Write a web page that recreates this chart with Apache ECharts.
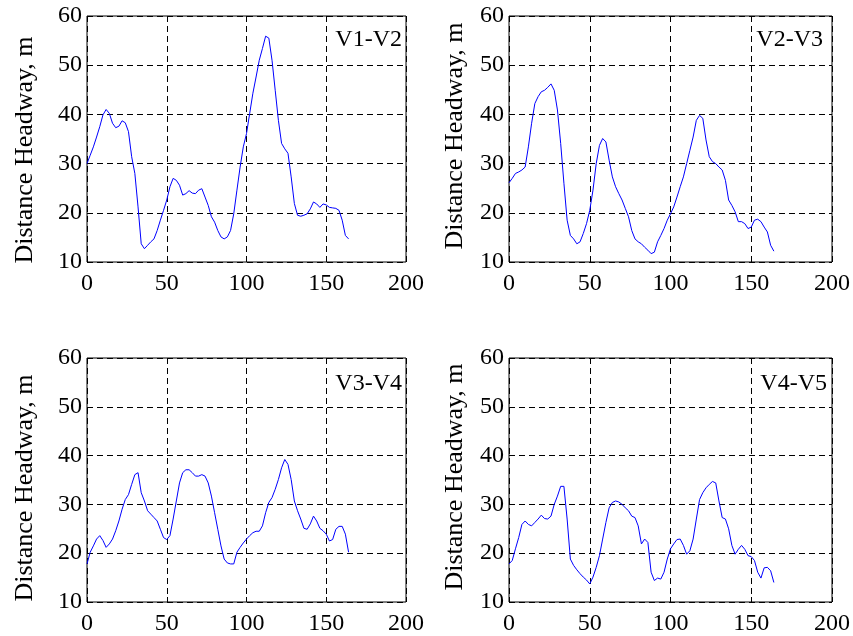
<!DOCTYPE html>
<html>
<head>
    <meta charset="utf-8">
    <title>Distance Headway</title>
    <script src="https://cdn.jsdelivr.net/npm/echarts@6/dist/echarts.min.js"></script>
</head>
<style>
    body { margin: 0; background: #fff; }
</style>
<body>
    <div id="main" style="width: 853px;height:636px;"></div>
    <script type="text/javascript">
        // time axis (s)
        var time = [0, 2, 4, 6, 8, 10, 12, 14, 16, 18, 20, 22, 24, 26, 28, 30, 32, 34, 36, 38,
            40, 42, 44, 46, 48, 50, 52, 54, 56, 58, 60, 62, 64, 66, 68, 70, 72, 74, 76, 78,
            80, 82, 84, 86, 88, 90, 92, 94, 96, 98, 100, 102, 104, 106, 108, 110, 112, 114, 116, 118,
            120, 122, 124, 126, 128, 130, 132, 134, 136, 138, 140, 142, 144, 146, 148, 150, 152, 154, 156, 158,
            160, 162, 164];

        var v1v2 = [30.0, 31.7, 33.4, 35.4, 37.5, 39.9, 41.0, 40.2, 38.2, 37.3, 37.6, 38.7, 38.3, 36.5, 31.4, 28.0, 21.2, 13.7, 12.7, 13.4,
            14.1, 14.7, 16.4, 18.5, 20.5, 22.6, 25.3, 27.0, 26.6, 25.6, 23.6, 23.9, 24.5, 24.0, 23.9, 24.6, 24.9, 23.2, 21.5, 19.2,
            18.1, 16.4, 15.1, 14.7, 15.1, 16.4, 19.8, 24.6, 29.3, 33.4, 36.1, 40.2, 44.3, 47.6, 51.0, 53.4, 55.9, 55.5, 51.0, 44.9,
            38.8, 34.1, 33.0, 32.1, 27.3, 21.9, 19.5, 19.3, 19.5, 19.8, 20.8, 22.2, 21.8, 21.1, 21.8, 21.6, 21.1, 21.0, 20.9, 20.5,
            18.5, 15.4, 14.7];
        var v2v3 = [26.1, 27.0, 28.0, 28.3, 28.7, 29.3, 33.4, 38.2, 42.2, 43.6, 44.6, 44.9, 45.5, 46.2, 44.9, 40.9, 34.1, 26.0, 18.5, 15.4,
            14.7, 13.7, 14.1, 15.8, 17.8, 20.5, 24.6, 30.0, 33.7, 35.1, 34.4, 30.7, 27.3, 25.3, 23.9, 22.6, 20.9, 19.2, 16.4, 14.7,
            14.1, 13.7, 13.0, 12.4, 11.7, 12.0, 14.1, 15.4, 16.8, 18.5, 19.8, 21.2, 23.2, 25.3, 27.3, 30.0, 32.7, 35.4, 38.8, 39.8,
            39.2, 34.8, 31.4, 30.4, 30.0, 29.3, 28.7, 26.6, 22.6, 21.5, 20.2, 18.2, 18.2, 17.8, 16.8, 17.1, 18.5, 18.7, 18.2, 17.1,
            16.1, 13.4, 12.2];
        var v3v4 = [17.8, 20.2, 21.5, 22.9, 23.6, 22.6, 21.2, 21.9, 22.9, 24.6, 26.6, 29.0, 31.0, 32.0, 34.1, 36.1, 36.5, 32.4, 30.7, 28.7,
            28.0, 27.3, 26.6, 24.9, 23.2, 22.8, 23.6, 27.0, 30.7, 34.4, 36.5, 37.1, 37.1, 36.5, 35.8, 35.8, 36.1, 35.8, 34.4, 31.7,
            28.3, 24.9, 21.5, 18.8, 18.0, 17.8, 17.8, 20.2, 21.2, 22.1, 22.9, 23.6, 24.2, 24.5, 24.5, 25.6, 28.3, 30.4, 31.4, 33.1,
            35.1, 37.5, 39.2, 38.2, 35.1, 30.7, 28.7, 27.0, 25.1, 24.9, 26.0, 27.6, 26.6, 25.1, 24.6, 23.9, 22.5, 22.8, 24.9, 25.5,
            25.5, 23.9, 20.2];
        var v4v5 = [17.8, 18.5, 20.9, 23.2, 25.9, 26.6, 25.9, 25.6, 26.3, 27.0, 27.8, 27.1, 27.0, 27.6, 30.0, 31.7, 33.7, 33.7, 27.0, 18.8,
            17.5, 16.6, 15.8, 15.1, 14.5, 13.7, 15.1, 17.1, 19.5, 22.9, 26.3, 29.3, 30.4, 30.7, 30.5, 30.0, 29.3, 28.7, 27.6, 27.3,
            25.6, 21.9, 22.9, 22.2, 16.1, 14.4, 14.9, 14.7, 16.1, 18.8, 20.9, 21.9, 22.8, 22.9, 21.6, 19.8, 20.5, 22.9, 27.0, 31.0,
            32.4, 33.4, 34.1, 34.7, 34.4, 30.7, 27.3, 27.0, 25.0, 21.6, 19.8, 20.8, 21.6, 20.8, 19.5, 19.3, 18.5, 16.1, 14.9, 17.0,
            17.1, 16.4, 14.0];

        var panelNames = ['V1-V2', 'V2-V3', 'V3-V4', 'V4-V5'];
        var panelData = [v1v2, v2v3, v3v4, v4v5];

        var font = 'Liberation Serif, Times New Roman, serif';
        var grids = [
            { left: 87, top: 16, width: 319, height: 246 },
            { left: 509, top: 16, width: 323, height: 246 },
            { left: 87, top: 358, width: 319, height: 245 },
            { left: 509, top: 358, width: 323, height: 245 }
        ];
        // y-label centres and panel label anchors
        var yLabelPos = [[25, 150], [455, 136], [25, 488], [455, 477]];
        var namePos = [[402, 40], [823, 40], [402, 384], [827, 384]];

        var myChart = echarts.init(document.getElementById('main'));

        var xAxes = [], yAxes = [], series = [], graphics = [];
        for (var i = 0; i < 4; i++) {
            grids[i].show = true;
            grids[i].borderColor = '#000';
            grids[i].borderWidth = 1;
            grids[i].containLabel = false;
            var split = {
                show: true,
                lineStyle: { color: '#000', width: 1, type: [6, 4] }
            };
            var tick = { show: true, inside: true, length: 5, lineStyle: { color: '#000' } };
            xAxes.push({
                type: 'value', gridIndex: i, min: 0, max: 200, interval: 50,
                axisLine: { show: false },
                axisTick: tick,
                splitLine: split,
                axisLabel: { color: '#000', fontFamily: font, fontSize: 24, margin: 10 }
            });
            yAxes.push({
                type: 'value', gridIndex: i, min: 10, max: 60, interval: 10,
                axisLine: { show: false },
                axisTick: tick,
                splitLine: split,
                axisLabel: { color: '#000', fontFamily: font, fontSize: 24, margin: 5 }
            });
            var pts = [];
            for (var k = 0; k < time.length; k++) pts.push([time[k], panelData[i][k]]);
            series.push({
                type: 'line', xAxisIndex: i, yAxisIndex: i,
                data: pts, showSymbol: false, animation: false,
                lineStyle: { color: '#0000ff', width: 1 }
            });
            graphics.push({
                type: 'text', x: yLabelPos[i][0], y: yLabelPos[i][1], rotation: Math.PI / 2,
                style: {
                    text: 'Distance Headway, m', fill: '#000', font: '26px ' + font,
                    textAlign: 'center', textVerticalAlign: 'middle'
                }
            });
            graphics.push({
                type: 'text', x: namePos[i][0], y: namePos[i][1], z: 10,
                style: {
                    text: panelNames[i], fill: '#000', font: '24px ' + font,
                    textAlign: 'right', textVerticalAlign: 'middle'
                }
            });
        }

        var option = {
            animation: false,
            backgroundColor: '#fff',
            grid: grids,
            xAxis: xAxes,
            yAxis: yAxes,
            series: series,
            graphic: graphics
        };
        myChart.setOption(option);
    </script>
</body>
</html>
